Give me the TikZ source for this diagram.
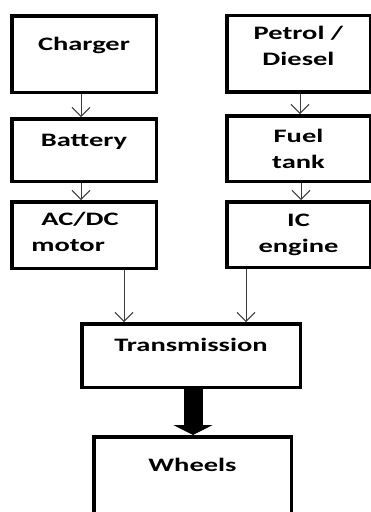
\documentclass[tikz,border=0pt]{standalone}
\usepackage{fontspec}
\newfontfamily\blockfont{Carlito}[FakeStretch=1.5]
\usepackage{tikz}
\usetikzlibrary{arrows.meta, positioning}
\definecolor{flowgray}{RGB}{60, 60, 60}

\begin{document}
\begin{tikzpicture}[x=1pt, y=-1pt,
    blk/.style={draw, line width=3.5pt, inner sep=0pt, align=center,
      font=\blockfont\bfseries\fontsize{19}{26}\selectfont},
    oneline/.style={text height=14pt, text depth=22pt},
    flow/.style={-{Straight Barb[length=9pt, width=18pt]}, flowgray, line width=0.9pt}]

  \useasboundingbox (0,0) rectangle (371,512);
  \clip (0,0) rectangle (371,512);

  % --- electric side ---
  \node[blk, oneline, minimum width=144.5pt, minimum height=76.5pt]
    (charger) at (84,54) {Charger};
  \node[blk, oneline, minimum width=144.5pt, minimum height=62.5pt]
    (battery) at (84,150) {Battery};
  \node[blk, align=left, text depth=7pt, minimum width=144.5pt, minimum height=66.5pt]
    (motor) at (84,235) {\hspace*{10pt}AC/DC\hspace*{18pt}\\motor};

  % --- fuel side ---
  \node[blk, text depth=15pt, minimum width=143.5pt, minimum height=76.5pt]
    (petrol) at (298.5,53.5) {Petrol /\\Diesel};
  \node[blk, minimum width=143.5pt, minimum height=65.5pt]
    (fuel) at (298.5,148.5) {Fuel\\tank};
  \node[blk, minimum width=143.5pt, minimum height=65.5pt]
    (engine) at (298.5,234.5) {IC\\engine};

  % --- drive train ---
  \node[blk, oneline, minimum width=218.5pt, minimum height=63.5pt]
    (trans) at (191,355.5) {Transmission};
  \node[blk, oneline, text depth=26pt, minimum width=197.5pt, minimum height=80.5pt]
    (wheels) at (192.5,477) {Wheels};

  % --- thin links ---
  \draw[flow] ([xshift=-3pt]charger.south) -- ([xshift=-3pt]battery.north);
  \draw[flow] ([xshift=-3pt]battery.south) -- ([xshift=-3pt]motor.north);
  \draw[flow] ([xshift=1.5pt]petrol.south) -- ([xshift=1.5pt]fuel.north);
  \draw[flow] ([xshift=2.5pt]fuel.south) -- ([xshift=2.5pt]engine.north);
  \draw[flow] ([xshift=40pt]motor.south) -- ([xshift=40pt]motor.south |- trans.north);
  \draw[flow] ([xshift=-52.5pt]engine.south) -- ([xshift=-52.5pt]engine.south |- trans.north);

  % --- heavy link ---
  \draw[line width=19pt, -{Triangle[length=10pt, width=39pt]}]
    ([xshift=2pt]trans.south) -- ([xshift=0.5pt]wheels.north);

\end{tikzpicture}
\end{document}
